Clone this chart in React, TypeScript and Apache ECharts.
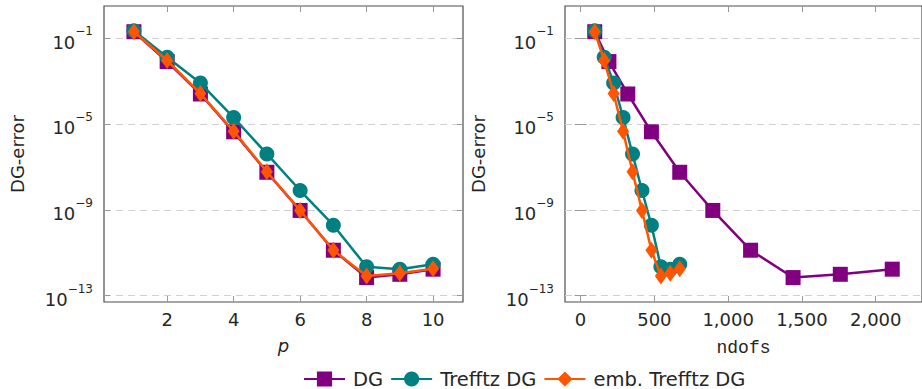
import React, { useEffect, useRef } from 'react';
import * as echarts from 'echarts';

// polynomial degree p
const polyDegrees = [1, 2, 3, 4, 5, 6, 7, 8, 9, 10];
// number of degrees of freedom
const ndofsDG = [96, 192, 320, 480, 672, 896, 1152, 1440, 1760, 2112];
const ndofsTrefftz = [96, 160, 224, 288, 352, 416, 480, 544, 608, 672];
// DG-error values
const errDG = [2.0e-1, 8.1e-3, 2.5e-4, 4.3e-6, 5.6e-8, 9.3e-10, 1.3e-11, 6.9e-13, 9.8e-13, 1.7e-12];
const errTrefftz = [2.2e-1, 1.3e-2, 8.1e-4, 2.0e-5, 4.0e-7, 7.9e-9, 1.9e-10, 2.2e-12, 1.7e-12, 2.9e-12];
const errEmbTrefftz = [2.0e-1, 9.1e-3, 2.6e-4, 4.6e-6, 5.9e-8, 9.3e-10, 1.3e-11, 8.1e-13, 1.1e-12, 1.8e-12];
// tick values
const xTicksP = [2, 4, 6, 8, 10];
const xTicksNdofs = [0, 500, 1000, 1500, 2000];
const yTickExponents = [-13, -9, -5, -1];

const seriesNames = ['DG', 'Trefftz DG', 'emb. Trefftz DG'];
const colors = ['#800080', '#008080', '#ff5500'];

const FONT = 'DejaVu Sans';
const TEXT = '#262626';

export default function App() {
  const ref = useRef<HTMLDivElement>(null);
  useEffect(() => {
    if (!ref.current) return;
    const chart = echarts.init(ref.current, null, { renderer: 'svg' });

    const yMin = -13.3;
    const yMax = 0.5;

    const zip = (xs: number[], es: number[]) => xs.map((x, i) => [x, Math.log10(es[i])]);

    const symbols = [
      { symbol: 'rect', symbolSize: 15 },
      { symbol: 'circle', symbolSize: 15 },
      { symbol: 'diamond', symbolSize: [12, 17] },
    ];

    const mkSeries = (name: string, idx: number, gridIdx: number, data: number[][]) => ({
      type: 'line',
      name,
      xAxisIndex: gridIdx * 2,
      yAxisIndex: gridIdx * 2,
      data,
      symbol: symbols[idx].symbol,
      symbolSize: symbols[idx].symbolSize,
      showAllSymbol: true,
      lineStyle: { color: colors[idx], width: 2.5 },
      itemStyle: { color: colors[idx] },
      z: 3 + idx,
      emphasis: { disabled: true },
    });

    const yLabel = {
      customValues: yTickExponents,
      margin: 11,
      formatter: (v: number) => `{b|10}{s|${v < 0 ? '\u2212' : ''}${Math.abs(v)}}`,
      rich: {
        b: { fontSize: 18, fontFamily: FONT, color: TEXT, lineHeight: 26, verticalAlign: 'bottom' },
        s: { fontSize: 12, fontFamily: FONT, color: TEXT, lineHeight: 12, verticalAlign: 'top' },
      },
    };

    const yAxisMain = (gridIndex: number) => ({
      type: 'value',
      gridIndex,
      min: yMin,
      max: yMax,
      name: 'DG-error',
      nameLocation: 'middle',
      nameGap: 78,
      nameTextStyle: { fontSize: 18, fontFamily: FONT, color: TEXT },
      axisLine: { show: false },
      axisTick: { show: true, inside: true, length: 6, customValues: yTickExponents, lineStyle: { color: '#999' } },
      axisLabel: yLabel,
      splitLine: { show: true, lineStyle: { color: '#d0d0d0', type: [7, 5], width: 1 } },
    });
    const yAxisMirror = (gridIndex: number) => ({
      type: 'value',
      gridIndex,
      min: yMin,
      max: yMax,
      position: 'right',
      axisLine: { show: false },
      axisTick: { show: true, inside: true, length: 6, customValues: yTickExponents, lineStyle: { color: '#999' } },
      axisLabel: { show: false },
      splitLine: { show: false },
    });

    const xAxisMain = (gridIndex: number, min: number, max: number, ticks: number[], name: string, nameStyle: any, nameGap: number, fmt: (v: number) => string) => ({
      type: 'value',
      gridIndex,
      min,
      max,
      name,
      nameLocation: 'middle',
      nameGap,
      nameTextStyle: nameStyle,
      axisLine: { show: false, onZero: false },
      axisTick: { show: true, inside: true, length: 6, customValues: ticks, lineStyle: { color: '#999' } },
      axisLabel: { customValues: ticks, margin: 8, fontSize: 18, fontFamily: FONT, color: TEXT, formatter: fmt },
      splitLine: { show: false },
    });
    const xAxisMirror = (gridIndex: number, min: number, max: number, ticks: number[]) => ({
      type: 'value',
      gridIndex,
      min,
      max,
      position: 'top',
      axisLine: { show: false, onZero: false },
      axisTick: { show: true, inside: true, length: 6, customValues: ticks, lineStyle: { color: '#999' } },
      axisLabel: { show: false },
      splitLine: { show: false },
    });

    const option: any = {
      animation: false,
      grid: [
        { left: 104, top: 6, width: 359, height: 296, show: true, borderColor: '#4d4d4d', borderWidth: 1.2, backgroundColor: 'transparent' },
        { left: 565, top: 6, width: 359, height: 296, show: true, borderColor: '#4d4d4d', borderWidth: 1.2, backgroundColor: 'transparent' },
      ],
      xAxis: [
        xAxisMain(0, 0.1, 10.9, xTicksP, 'p', { fontSize: 18, fontFamily: FONT, fontStyle: 'italic', color: TEXT }, 34, (v) => String(v)),
        xAxisMirror(0, 0.1, 10.9, xTicksP),
        xAxisMain(1, -105.6, 2313.6, xTicksNdofs, 'ndofs', { fontSize: 18, fontFamily: 'Liberation Mono', color: TEXT }, 37, (v) => v.toLocaleString('en-US')),
        xAxisMirror(1, -105.6, 2313.6, xTicksNdofs),
      ],
      yAxis: [yAxisMain(0), yAxisMirror(0), yAxisMain(1), yAxisMirror(1)],
      legend: {
        left: 303,
        top: 369,
        padding: 0,
        itemWidth: 41,
        itemHeight: 19,
        itemGap: 7,
        data: seriesNames,
        textStyle: { fontSize: 19.5, lineHeight: 18, fontFamily: FONT, color: TEXT, padding: [0, 0, 0, 3] },
      },
      series: [
        mkSeries(seriesNames[0], 0, 0, zip(polyDegrees, errDG)),
        mkSeries(seriesNames[1], 1, 0, zip(polyDegrees, errTrefftz)),
        mkSeries(seriesNames[2], 2, 0, zip(polyDegrees, errEmbTrefftz)),
        mkSeries(seriesNames[0], 0, 1, zip(ndofsDG, errDG)),
        mkSeries(seriesNames[1], 1, 1, zip(ndofsTrefftz, errTrefftz)),
        mkSeries(seriesNames[2], 2, 1, zip(ndofsTrefftz, errEmbTrefftz)),
      ],
    };
    chart.setOption(option);
    return () => chart.dispose();
  }, []);
  return <div ref={ref} style={{ width: 922, height: 389, position: 'absolute', left: 0, top: 0 }} />;
}
